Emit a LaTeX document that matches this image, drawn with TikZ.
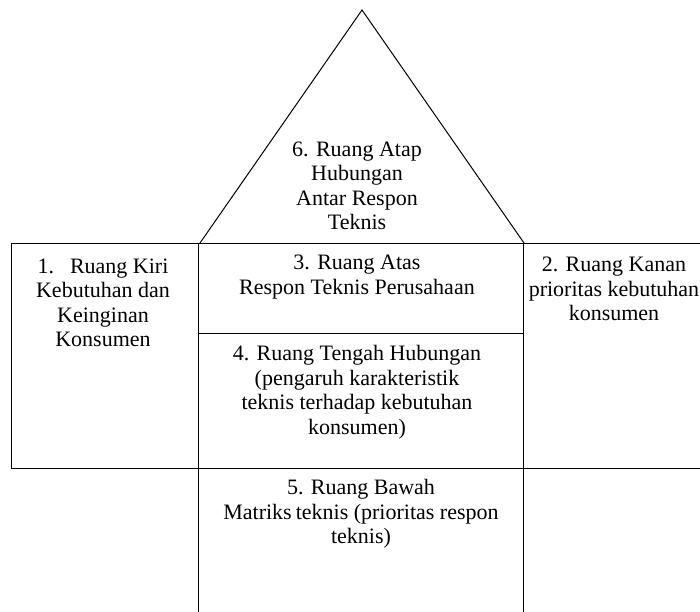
\documentclass[tikz,border=0pt]{standalone}
\usepackage{fontspec}
\setmainfont{Liberation Serif}
\begin{document}
\begin{tikzpicture}[x=1pt,y=-1pt,line width=1pt,
  lbl/.style={align=center,font=\fontsize{22}{24.5}\selectfont,inner sep=0pt},
  frame/.style={draw=black,line width=1pt}]
\useasboundingbox (0,0) rectangle (700,611);
\clip (0,0) rectangle (700,611);
% coordinates
\coordinate (apex) at (362,10);
\coordinate (bl) at (200,243);
\coordinate (br) at (524,243);
% roof
\draw[frame] (bl) -- (apex) -- (br);
% top line of the row of rooms
\draw[frame] (11,243) -- (710,243);
% left room
\draw[frame] (11,243) rectangle (198,468);
% centre column
\draw[frame] (198,243) -- (198,620);
\draw[frame] (523,243) -- (523,620);
\draw[frame] (198,333) -- (523,333);
\draw[frame] (198,468) -- (710,468);
% texts
\node[lbl] (t6) at (357,186) {6. Ruang Atap\\Hubungan\\Antar Respon\\Teknis};
\node[lbl] (t1) at (103,303) {1.\hspace{16pt}Ruang Kiri\\Kebutuhan dan\\Keinginan\\Konsumen};
\node[lbl] (t3) at (357,277) {3. Ruang Atas\\Respon Teknis Perusahaan};
\node[lbl] (t2) at (614,289) {2. Ruang Kanan\\prioritas kebutuhan\\konsumen};
\node[lbl] (t4) at (357,392) {4. Ruang Tengah Hubungan\\(pengaruh karakteristik\\teknis terhadap kebutuhan\\konsumen)};
\node[lbl] (t5) at (361,514) {5. Ruang Bawah\\Matriks\hspace{4pt}teknis (prioritas respon\\teknis)};
\end{tikzpicture}
\end{document}
